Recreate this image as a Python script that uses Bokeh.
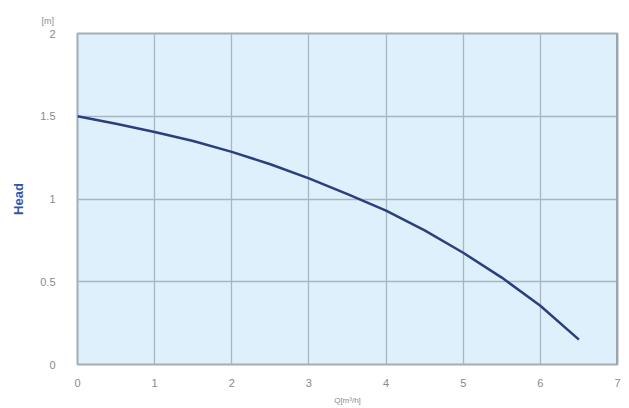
from bokeh.plotting import figure
from bokeh.models import Range1d, FixedTicker, Span
from bokeh.embed import file_html
from bokeh.resources import INLINE

# Data
flow = [0, 0.5, 1, 1.5, 2, 2.5, 3, 3.5, 4, 4.5, 5, 5.5, 6, 6.5]
head = [1.50, 1.455, 1.405, 1.35, 1.285, 1.21, 1.125, 1.03, 0.93, 0.81, 0.675, 0.525, 0.355, 0.15]
x_ticks = [0, 1, 2, 3, 4, 5, 6, 7]
y_ticks = [0, 0.5, 1, 1.5, 2]
y_tick_labels = {0: "0", 0.5: "0.5", 1: "1", 1.5: "1.5", 2: "2"}

p = figure(width=629, height=408, output_backend="svg", toolbar_location=None,
           x_range=Range1d(0, 7), y_range=Range1d(0, 2),
           min_border_left=77, min_border_right=12, min_border_top=33, min_border_bottom=44)

p.border_fill_color = "#ffffff"
p.background_fill_color = "#ddf0fb"
p.outline_line_color = "#a4adb3"
p.outline_line_width = 2

for g in (p.xgrid, p.ygrid):
    g.grid_line_color = "#a9b6bf"
    g.grid_line_width = 1.3

p.xaxis.ticker = FixedTicker(ticks=x_ticks)
p.yaxis.ticker = FixedTicker(ticks=y_ticks)
p.yaxis.major_label_overrides = y_tick_labels

for ax in (p.xaxis, p.yaxis):
    ax.axis_line_color = None
    ax.major_tick_line_color = None
    ax.minor_tick_line_color = None
    ax.major_label_text_color = "#8a8a8a"
    ax.major_label_text_font = "Liberation Sans"
    ax.major_label_text_font_size = "11px"

p.xaxis.major_label_standoff = 8
p.yaxis.major_label_standoff = 16

p.yaxis.axis_label = "Head"
p.yaxis.axis_label_text_color = "#2f55b0"
p.yaxis.axis_label_text_font = "Liberation Sans"
p.yaxis.axis_label_text_font_style = "bold"
p.yaxis.axis_label_text_font_size = "13px"
p.yaxis.axis_label_standoff = 11

p.xaxis.axis_label = "Q[m³/h]"
p.xaxis.axis_label_text_color = "#8a8a8a"
p.xaxis.axis_label_text_font = "Liberation Sans"
p.xaxis.axis_label_text_font_style = "normal"
p.xaxis.axis_label_text_font_size = "8px"
p.xaxis.axis_label_standoff = 6

# "[m]" unit label above the y axis, drawn as the title
p.title.text = "[m]"
p.title.align = "left"
p.title.offset = -36
p.title.standoff = 16
p.title.text_font = "Liberation Sans"
p.title.text_font_size = "9px"
p.title.text_font_style = "normal"
p.title.text_color = "#8a8a8a"

# right edge of frame is drawn darker/thicker
p.add_layout(Span(location=7, dimension="height", line_color="#98a3aa", line_width=3))

p.line(flow, head, line_color="#2b3f80", line_width=2.5)

open("out.html", "w").write(file_html(p, INLINE))
